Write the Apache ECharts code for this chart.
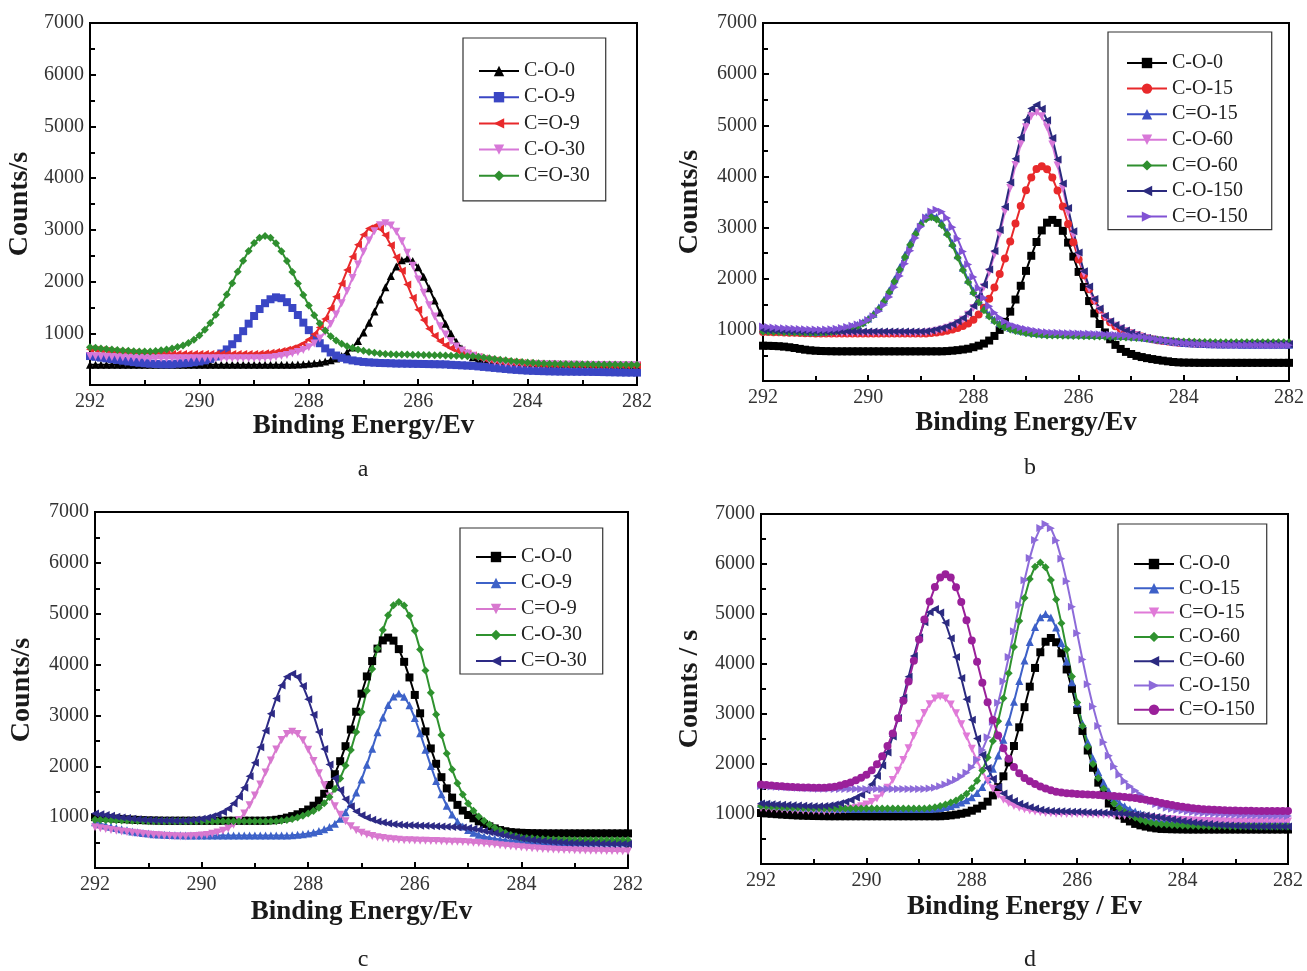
<!DOCTYPE html>
<html>
<head>
<meta charset="utf-8">
<script src="https://cdn.jsdelivr.net/npm/echarts@6/dist/echarts.min.js"></script>
<style>html,body{margin:0;padding:0;background:#fff;}#c{width:1307px;height:971px;}</style>
</head>
<body>
<div id="c"></div>
<script>
// Binding energy grid (eV), 292 -> 282
const energy = [292.0,291.9,291.8,291.7,291.6,291.5,291.4,291.3,291.2,291.1,
291.0,290.9,290.8,290.7,290.6,290.5,290.4,290.3,290.2,290.1,
290.0,289.9,289.8,289.7,289.6,289.5,289.4,289.3,289.2,289.1,
289.0,288.9,288.8,288.7,288.6,288.5,288.4,288.3,288.2,288.1,
288.0,287.9,287.8,287.7,287.6,287.5,287.4,287.3,287.2,287.1,
287.0,286.9,286.8,286.7,286.6,286.5,286.4,286.3,286.2,286.1,
286.0,285.9,285.8,285.7,285.6,285.5,285.4,285.3,285.2,285.1,
285.0,284.9,284.8,284.7,284.6,284.5,284.4,284.3,284.2,284.1,
284.0,283.9,283.8,283.7,283.6,283.5,283.4,283.3,283.2,283.1,
283.0,282.9,282.8,282.7,282.6,282.5,282.4,282.3,282.2,282.1,282.0];

const xTicks = [292, 290, 288, 286, 284, 282];
const yTicks = [1000, 2000, 3000, 4000, 5000, 6000, 7000];

// ---------- panel a ----------
const a_CO0 = [390,390,390,390,390,390,390,390,390,390,
390,390,390,390,390,390,390,390,390,390,
390,390,390,390,390,390,390,390,390,390,
390,390,390,390,390,390,390,390,394,400,
409,419,431,454,479,512,559,632,727,853,
1014,1204,1420,1654,1890,2108,2290,2410,2445,2399,
2275,2091,1873,1635,1400,1184,994,833,707,612,
539,492,459,434,411,399,389,380,374,370,
370,370,370,370,370,370,370,370,370,370,
370,370,370,370,370,370,370,370,370,370,370];
const a_CO9 = [560,545,530,515,500,485,470,455,442,430,
420,412,405,400,399,400,412,418,426,440,
455,476,505,550,609,688,788,906,1041,1186,
1334,1469,1582,1658,1695,1678,1602,1489,1354,1206,
1061,926,808,708,629,570,525,496,475,460,
446,438,432,426,423,420,415,414,412,410,
408,406,404,402,400,398,390,385,380,375,
370,360,350,340,330,320,310,300,292,285,
278,274,270,267,264,262,260,259,258,257,
256,255,253,251,249,247,245,243,241,240,240];
const a_CdO9 = [690,680,670,660,650,640,632,625,619,614,
610,607,605,603,602,600,600,600,600,600,
600,600,600,600,600,600,600,600,600,600,
600,605,612,625,640,659,682,711,748,803,
879,980,1111,1277,1477,1707,1959,2223,2482,2714,
2905,3028,3068,3023,2898,2704,2470,2209,1943,1689,
1457,1255,1086,952,849,769,710,666,630,599,
570,540,512,490,472,460,450,442,434,427,
420,416,412,408,404,400,399,398,397,396,
395,394,392,391,390,388,386,385,383,381,380];
const a_CO30 = [560,555,550,545,540,535,530,527,524,522,
520,518,515,515,515,515,515,515,515,515,
515,515,515,515,515,515,515,515,515,515,
515,515,520,528,541,559,580,607,638,675,
729,803,899,1025,1179,1365,1579,1817,2071,2330,
2576,2795,2973,3091,3128,3086,2963,2780,2556,2305,
2042,1784,1542,1324,1134,976,846,746,668,610,
568,532,500,474,451,433,420,410,406,402,
400,398,397,396,395,394,393,392,391,390,
389,388,387,386,385,384,383,382,381,380,380];
const a_CdO30 = [730,718,706,695,685,675,667,660,653,647,
647,649,658,670,686,707,733,765,812,875,
958,1067,1200,1360,1545,1750,1969,2192,2403,2592,
2746,2847,2880,2845,2743,2588,2398,2185,1961,1741,
1535,1349,1188,1054,944,860,796,748,714,685,
660,640,623,609,601,594,592,590,589,587,
585,582,579,576,573,570,567,564,561,558,
555,545,532,518,503,490,478,466,455,444,
435,428,422,417,413,410,407,405,403,401,
400,399,398,397,396,395,394,393,392,391,390];

// ---------- panel b ----------
const b_CO0 = [690,688,685,680,672,660,645,628,612,600,
592,587,584,582,580,580,580,580,580,580,
580,580,580,580,580,580,580,580,580,580,
580,580,580,580,580,585,593,603,616,631,
660,691,732,791,881,999,1156,1356,1593,1862,
2153,2448,2718,2944,3096,3150,3091,2936,2706,2432,
2133,1837,1563,1321,1114,949,816,706,627,569,
528,491,468,447,429,413,398,385,372,364,
360,358,357,355,355,355,355,355,355,355,
355,355,355,355,355,355,355,355,355,355,355];
const b_CO15 = [960,957,954,951,948,945,942,939,936,933,
931,930,930,930,930,930,930,930,930,930,
930,930,930,930,930,930,930,930,930,930,
930,930,937,946,963,982,1008,1038,1077,1126,
1198,1300,1434,1607,1826,2091,2395,2729,3078,3422,
3729,3981,4144,4200,4142,3977,3723,3414,3068,2714,
2375,2066,1796,1572,1394,1255,1148,1071,1017,970,
933,897,868,838,815,795,782,770,760,750,
742,736,731,727,724,722,720,720,720,720,
720,720,720,720,720,720,720,720,720,720,720];
const b_CdO15 = [1010,1005,1000,995,990,985,980,976,972,968,
965,968,973,985,999,1017,1038,1065,1099,1150,
1221,1315,1436,1589,1775,1988,2222,2467,2707,2922,
3099,3213,3250,3209,3094,2916,2700,2459,2213,1978,
1764,1577,1422,1299,1203,1130,1077,1041,1012,989,
969,953,939,931,924,922,920,918,916,914,
912,909,906,903,900,897,893,889,885,880,
875,866,855,842,828,812,796,782,768,756,
745,737,731,726,722,719,717,715,714,713,
712,711,711,710,710,710,710,710,710,710,710];
const b_CO60 = [955,953,951,949,947,945,943,942,941,940,
940,940,940,940,940,940,940,940,940,940,
940,940,940,940,940,940,940,940,940,940,
940,949,962,983,1009,1043,1082,1134,1199,1293,
1427,1604,1832,2121,2470,2871,3311,3772,4224,4629,
4961,5177,5250,5175,4957,4623,4216,3762,3297,2853,
2448,2095,1802,1569,1387,1248,1149,1078,1020,973,
931,895,862,835,811,796,782,770,759,749,
741,735,730,726,723,721,720,720,720,720,
720,720,720,720,720,720,720,720,720,720,720];
const b_CdO60 = [965,962,959,956,953,950,947,944,942,940,
938,941,947,959,972,990,1011,1038,1072,1122,
1192,1285,1405,1557,1740,1951,2182,2424,2662,2875,
3049,3162,3200,3160,3045,2869,2654,2414,2170,1937,
1724,1539,1385,1263,1168,1096,1044,1008,979,956,
936,921,907,899,892,890,888,886,884,882,
880,877,874,871,868,865,862,859,856,852,
848,842,835,827,818,809,800,792,785,779,
774,770,767,765,763,762,760,760,760,760,
760,760,760,760,760,760,760,760,760,760,760];
const b_CO150 = [1000,996,992,988,984,980,977,974,972,970,
968,968,968,968,968,968,968,968,968,968,
968,968,968,968,968,968,968,968,968,968,
968,975,988,1010,1037,1072,1112,1166,1232,1330,
1467,1649,1884,2181,2540,2953,3405,3880,4345,4762,
5104,5326,5400,5322,5097,4752,4332,3864,3385,2929,
2512,2148,1846,1605,1417,1274,1170,1097,1036,988,
944,906,871,843,818,802,787,773,761,750,
741,734,728,724,721,719,718,718,718,718,
718,718,718,718,718,718,718,718,718,718,718];
const b_CdO150 = [1065,1055,1046,1038,1031,1025,1020,1015,1011,1008,
1005,1003,1006,1012,1024,1038,1057,1078,1106,1141,
1193,1265,1362,1486,1644,1835,2054,2294,2546,2794,
3015,3196,3313,3350,3307,3187,3004,2781,2531,2277,
2035,1814,1621,1461,1335,1236,1161,1107,1070,1040,
1017,995,978,963,953,945,942,939,936,933,
930,926,922,918,914,910,905,900,895,889,
882,872,860,846,830,813,796,780,766,754,
744,736,729,723,718,714,711,709,707,705,
704,703,703,702,702,701,701,700,700,700,700];

// ---------- panel c ----------
const c_CO0 = [1000,993,986,979,972,965,958,952,946,941,
937,934,932,930,930,930,930,930,930,930,
930,930,930,930,930,930,930,930,930,930,
930,930,930,937,948,966,991,1020,1056,1099,
1150,1225,1326,1459,1632,1844,2100,2395,2723,3072,
3428,3767,4069,4314,4476,4530,4471,4304,4054,3747,
3403,3042,2686,2351,2049,1786,1566,1384,1241,1129,
1042,977,918,865,819,778,746,723,706,698,
692,688,685,683,681,680,680,680,680,680,
680,680,680,680,680,680,680,680,680,680,680];
const c_CO9 = [900,870,840,812,786,762,740,720,703,688,
676,666,658,652,647,644,642,640,640,640,
640,640,640,640,640,640,640,640,640,640,
640,640,640,640,640,640,640,646,654,665,
679,696,726,760,805,869,966,1095,1265,1483,
1739,2032,2347,2668,2961,3207,3371,3430,3367,3199,
2949,2652,2327,2007,1709,1448,1225,1050,916,814,
745,694,654,618,595,575,559,546,535,530,
526,522,519,516,513,510,508,506,504,502,
501,500,500,500,500,500,500,500,500,500,500];
const c_CdO9 = [800,782,765,749,734,720,706,693,681,670,
660,651,643,636,630,625,620,620,623,630,
639,650,672,697,730,778,851,946,1073,1235,
1426,1643,1878,2114,2332,2515,2637,2680,2634,2510,
2325,2105,1865,1627,1407,1213,1048,918,820,744,
693,657,629,604,588,575,563,554,547,544,
541,538,535,532,529,526,522,518,514,510,
505,498,490,481,471,460,449,438,427,416,
406,397,389,382,376,370,365,360,356,352,
349,346,343,341,339,337,335,333,332,331,330];
const c_CO30 = [950,947,944,941,938,935,932,929,926,923,
920,920,920,920,920,920,920,920,920,920,
920,920,920,920,920,920,920,920,920,920,
920,920,920,920,920,929,942,963,993,1028,
1071,1123,1183,1273,1394,1554,1760,2015,2321,2674,
3066,3484,3911,4316,4678,4971,5165,5230,5160,4961,
4663,4294,3881,3446,3019,2617,2253,1935,1666,1444,
1266,1125,1013,930,855,790,735,687,650,623,
602,592,584,577,571,566,562,559,556,554,
552,551,551,551,551,550,550,550,550,550,550];
const c_CdO30 = [1070,1055,1040,1025,1010,995,982,970,960,950,
943,938,935,933,932,930,930,936,944,956,
970,988,1020,1054,1101,1167,1268,1401,1577,1803,
2069,2372,2699,3031,3334,3589,3759,3820,3754,3579,
3319,3011,2674,2342,2034,1763,1532,1351,1214,1109,
1039,988,950,915,894,877,862,851,842,839,
836,833,830,826,822,818,813,808,802,795,
787,770,750,728,705,682,660,638,617,598,
580,566,553,541,530,520,512,505,499,494,
490,487,484,482,480,478,476,474,472,471,470];

// ---------- panel d ----------
const d_CO0 = [1020,1012,1004,996,989,982,976,971,967,963,
960,958,957,955,955,955,955,955,955,955,
955,955,955,955,955,955,955,955,955,955,
955,955,955,955,955,962,973,987,1005,1026,
1066,1108,1165,1247,1372,1536,1754,2032,2360,2734,
3137,3547,3921,4235,4445,4520,4435,4215,3891,3504,
3080,2661,2270,1924,1627,1391,1209,1068,972,903,
851,802,773,748,728,712,701,698,695,693,
692,690,690,690,690,690,690,690,690,690,
690,690,690,690,690,690,690,690,690,690,690];
const d_CO15 = [1200,1190,1180,1170,1160,1150,1141,1133,1126,1120,
1115,1111,1108,1105,1103,1102,1100,1100,1100,1100,
1100,1100,1100,1100,1100,1100,1100,1100,1100,1100,
1100,1100,1100,1108,1120,1139,1162,1194,1229,1276,
1334,1420,1541,1701,1907,2169,2485,2847,3245,3662,
4072,4438,4739,4934,5000,4929,4729,4422,4050,3633,
3209,2803,2433,2109,1838,1623,1453,1322,1225,1156,
1097,1049,1003,966,933,907,886,874,863,854,
846,840,835,831,828,826,824,823,822,821,
820,820,820,820,820,820,820,820,820,820,820];
const d_CdO15 = [1120,1113,1106,1099,1093,1087,1081,1076,1071,1067,
1063,1060,1057,1060,1065,1073,1087,1105,1126,1154,
1188,1239,1310,1404,1526,1680,1867,2080,2315,2561,
2803,3019,3196,3311,3350,3309,3192,3013,2795,2551,
2303,2066,1851,1662,1506,1382,1286,1213,1160,1124,
1094,1071,1051,1035,1022,1013,1006,1004,1002,1000,
998,995,992,989,986,983,979,975,971,967,
962,955,947,938,929,920,911,902,894,887,
880,874,869,865,862,859,857,855,853,852,
851,851,851,850,850,850,850,850,850,850,850];
const d_CO60 = [1160,1153,1147,1141,1136,1131,1127,1123,1120,1117,
1115,1113,1112,1110,1110,1110,1110,1110,1110,1110,
1110,1110,1110,1110,1110,1110,1110,1110,1110,1110,
1110,1110,1120,1135,1159,1189,1228,1272,1331,1405,
1513,1666,1868,2128,2458,2857,3314,3816,4342,4859,
5322,5700,5946,6030,5936,5680,5292,4817,4288,3748,
3232,2760,2345,1999,1722,1503,1333,1208,1117,1042,
983,930,887,851,825,805,796,788,781,775,
770,766,763,760,758,756,755,754,753,752,
751,751,751,750,750,750,750,750,750,750,750];
const d_CdO60 = [1210,1203,1196,1190,1184,1178,1173,1168,1164,1160,
1157,1155,1161,1172,1190,1213,1245,1280,1328,1387,
1474,1596,1758,1968,2232,2552,2920,3323,3745,4160,
4531,4835,5033,5100,5028,4825,4516,4140,3720,3293,
2885,2512,2187,1918,1704,1538,1412,1321,1258,1207,
1169,1134,1108,1085,1070,1059,1056,1053,1050,1047,
1044,1040,1036,1032,1028,1024,1019,1014,1009,1004,
998,990,980,968,954,939,923,906,889,873,
858,844,831,819,808,798,789,781,774,768,
763,759,756,754,752,751,750,750,750,750,750];
const d_CO150 = [1560,1555,1550,1545,1540,1535,1530,1525,1520,1515,
1510,1507,1505,1503,1502,1500,1500,1500,1500,1500,
1500,1500,1500,1500,1500,1500,1500,1500,1500,1500,
1500,1500,1511,1527,1553,1590,1633,1686,1749,1823,
1935,2083,2279,2534,2846,3223,3657,4139,4654,5178,
5676,6122,6482,6721,6800,6716,6472,6106,5653,5147,
4614,4089,3596,3150,2760,2434,2164,1951,1785,1653,
1557,1470,1391,1320,1255,1202,1161,1127,1106,1087,
1070,1055,1042,1031,1021,1013,1006,1000,995,990,
986,982,979,976,973,971,969,967,965,963,962];
const d_CdO150 = [1590,1580,1571,1562,1554,1547,1541,1536,1532,1529,
1527,1526,1525,1534,1546,1568,1598,1632,1674,1726,
1785,1875,1995,2153,2358,2610,2913,3263,3651,4066,
4488,4890,5248,5539,5731,5795,5728,5533,5239,4877,
4471,4045,3626,3234,2880,2572,2315,2105,1942,1817,
1722,1657,1599,1551,1511,1475,1447,1429,1414,1408,
1402,1396,1390,1384,1378,1372,1365,1358,1350,1341,
1331,1318,1302,1284,1264,1243,1222,1201,1181,1162,
1145,1130,1117,1106,1097,1089,1083,1078,1074,1071,
1068,1066,1064,1063,1062,1061,1060,1060,1060,1060,1060];

// ---------- series definitions ----------
const panels = [
  { key:'a', grid:{left:90, top:23, width:547, height:362}, xName:'Binding Energy/Ev', yName:'Counts/s', xGap:27, yGap:56,
    label:{text:'a', x:363, y:470},
    legend:{left:463, top:38, padding:[23,16,15,15], itemGap:6.2},
    series:[
      ['C-O-0', a_CO0, '#000000', 'triangle', 0],
      ['C-O-9', a_CO9, '#3a46c4', 'rect', 0],
      ['C=O-9', a_CdO9, '#e8292b', 'triangle', 90],
      ['C-O-30', a_CO30, '#d778d8', 'triangle', 180],
      ['C=O-30', a_CdO30, '#2f8f2f', 'diamond', 0]
    ]},
  { key:'b', grid:{left:763, top:23, width:528, height:358}, xName:'Binding Energy/Ev', yName:'Counts/s', xGap:29, yGap:59,
    label:{text:'b', x:1030, y:468},
    legend:{left:1108, top:32, padding:[21,24,3,18], itemGap:5.6},
    series:[
      ['C-O-0', b_CO0, '#000000', 'rect', 0],
      ['C-O-15', b_CO15, '#e8292b', 'circle', 0],
      ['C=O-15', b_CdO15, '#3d4fc4', 'triangle', 0],
      ['C-O-60', b_CO60, '#d878d8', 'triangle', 180],
      ['C=O-60', b_CdO60, '#2f8f2f', 'diamond', 0],
      ['C-O-150', b_CO150, '#2b2a7e', 'triangle', 90],
      ['C=O-150', b_CdO150, '#8152d4', 'triangle', -90]
    ]},
  { key:'c', grid:{left:95, top:512, width:533, height:356}, xName:'Binding Energy/Ev', yName:'Counts/s', xGap:31, yGap:59,
    label:{text:'c', x:363, y:960},
    legend:{left:460, top:528, padding:[19,16,3,15], itemGap:6},
    series:[
      ['C-O-0', c_CO0, '#000000', 'rect', 0],
      ['C-O-9', c_CO9, '#3d62c8', 'triangle', 0],
      ['C=O-9', c_CdO9, '#d878cf', 'triangle', 180],
      ['C-O-30', c_CO30, '#2f922f', 'diamond', 0],
      ['C=O-30', c_CdO30, '#2d2a85', 'triangle', 90]
    ]},
  { key:'d', grid:{left:761, top:514, width:527, height:350}, xName:'Binding Energy / Ev', yName:'Counts / s', xGap:30, yGap:57,
    label:{text:'d', x:1030, y:960},
    legend:{left:1118, top:524, padding:[30,12,4,15], itemGap:4.3},
    series:[
      ['C-O-0', d_CO0, '#000000', 'rect', 0],
      ['C-O-15', d_CO15, '#3d60c8', 'triangle', 0],
      ['C=O-15', d_CdO15, '#e07ad8', 'triangle', 180],
      ['C-O-60', d_CO60, '#2f922f', 'diamond', 0],
      ['C=O-60', d_CdO60, '#2b2a80', 'triangle', 90],
      ['C-O-150', d_CO150, '#8d6bd9', 'triangle', -90],
      ['C=O-150', d_CdO150, '#9a209a', 'circle', 0]
    ]}
];

const serif = 'Liberation Serif';
const grids = [], xAxes = [], yAxes = [], legends = [], series = [], graphics = [];

panels.forEach((p, idx) => {
  grids.push(Object.assign({show:true, borderColor:'#000', borderWidth:2, backgroundColor:'#fff'}, p.grid));
  xAxes.push({
    gridIndex: idx, type:'value', min:282, max:292, interval:2, inverse:true,
    name: p.xName, nameLocation:'middle', nameGap: p.xGap,
    nameTextStyle:{fontFamily:serif, fontWeight:'bold', fontSize:27, color:'#1a1a1a'},
    axisLine:{show:true, onZero:false, lineStyle:{color:'#000', width:2}},
    axisTick:{show:true, inside:true, length:6, lineStyle:{color:'#000', width:2}},
    minorTick:{show:true, splitNumber:2, length:5, lineStyle:{color:'#000', width:2}},
    splitLine:{show:false},
    axisLabel:{color:'#333', fontFamily:serif, fontSize:20, margin:7,
      formatter: v => xTicks.indexOf(v) >= 0 ? String(v) : ''}
  });
  yAxes.push({
    gridIndex: idx, type:'value', min:0, max:7000, interval:1000,
    name: p.yName, nameLocation:'middle', nameGap: p.yGap, nameRotate:90,
    nameTextStyle:{fontFamily:serif, fontWeight:'bold', fontSize:28, color:'#1a1a1a'},
    axisLine:{show:true, onZero:false, lineStyle:{color:'#000', width:2}},
    axisTick:{show:true, inside:true, length:6, lineStyle:{color:'#000', width:2}},
    minorTick:{show:true, splitNumber:2, length:5, lineStyle:{color:'#000', width:2}},
    splitLine:{show:false},
    axisLabel:{color:'#333', fontFamily:serif, fontSize:20, margin:6,
      formatter: v => yTicks.indexOf(v) >= 0 ? String(v) : ''}
  });
  const names = [];
  p.series.forEach(s => {
    const nm = p.key + '|' + s[0];
    names.push(nm);
    series.push({
      type:'line', name:nm, xAxisIndex:idx, yAxisIndex:idx,
      data: energy.map((e, i) => [e, s[1][i]]),
      symbol: s[3], symbolRotate: s[4], symbolSize: 8, showSymbol:true,
      lineStyle:{color:s[2], width:2}, itemStyle:{color:s[2]},
      animation:false, silent:true, clip:true
    });
  });
  legends.push({
    data: names, orient:'vertical', left:p.legend.left, top:p.legend.top,
    padding:p.legend.padding, itemGap:p.legend.itemGap, itemWidth:40, itemHeight:13,
    borderColor:'#333', borderWidth:1.2, backgroundColor:'#fff',
    selectedMode:false,
    formatter: n => n.split('|')[1],
    textStyle:{fontFamily:serif, fontSize:20, color:'#222'}
  });
  graphics.push({type:'text', x:p.label.x, y:p.label.y,
    style:{text:p.label.text, font:'24px "Liberation Serif"', fill:'#222', align:'center', verticalAlign:'middle'}});
});

const chart = echarts.init(document.getElementById('c'), null, {renderer:'canvas'});
chart.setOption({
  backgroundColor:'#fff',
  animation:false,
  grid: grids, xAxis: xAxes, yAxis: yAxes, legend: legends, series: series,
  graphic: graphics
});
</script>
</body>
</html>
